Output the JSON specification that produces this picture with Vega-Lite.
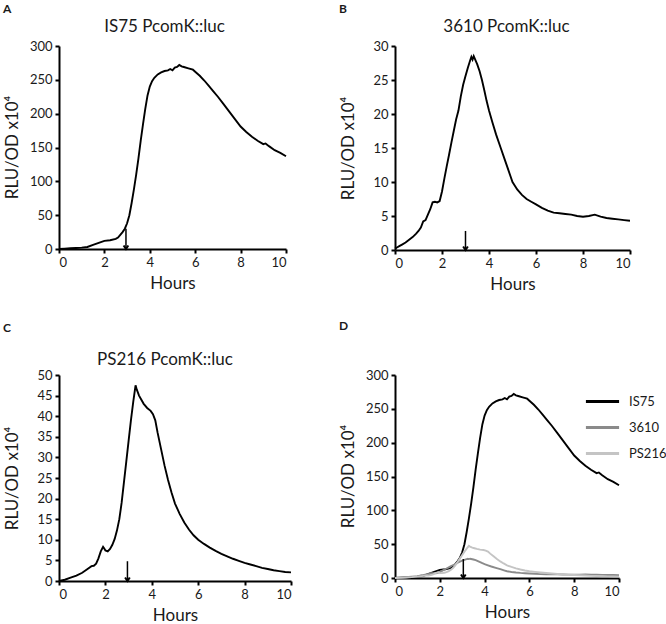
{
  "$schema": "https://vega.github.io/schema/vega-lite/v6.json",
  "background": "white",
  "padding": {"left": 3, "top": 3, "right": 0, "bottom": 0},
  "config": {
    "font": "Lato",
    "view": {"stroke": null},
    "axis": {"domainColor": "black", "domainWidth": 2, "tickColor": "black", "tickWidth": 2, "tickSize": 4, "labelFontSize": 13, "labelColor": "#1a1a1a", "titleFontSize": 17, "titleFontWeight": "normal", "titleColor": "#1a1a1a", "grid": false, "labelPadding": 3},
    "axisX": {"titlePadding": 6},
    "axisY": {"titleAngle": 270, "titleBaseline": "bottom", "titleAlign": "center", "titleX": -38},
    "title": {"fontSize": 17, "fontWeight": "normal", "color": "#1a1a1a"},
    "legend": {"labelFontSize": 13, "labelColor": "#1a1a1a"}
  },
  "datasets": {
    "curves": [
      {"strain": "IS75", "hours": 0, "value": 0}, {"strain": "IS75", "hours": 0.25, "value": 0.5}, {"strain": "IS75", "hours": 0.5, "value": 1}, {"strain": "IS75", "hours": 0.75, "value": 1.5}, {"strain": "IS75", "hours": 1.0, "value": 2}, {"strain": "IS75", "hours": 1.25, "value": 3}, {"strain": "IS75", "hours": 1.5, "value": 6}, {"strain": "IS75", "hours": 1.75, "value": 9}, {"strain": "IS75", "hours": 2.0, "value": 12}, {"strain": "IS75", "hours": 2.25, "value": 13}, {"strain": "IS75", "hours": 2.5, "value": 15}, {"strain": "IS75", "hours": 2.6, "value": 17}, {"strain": "IS75", "hours": 2.7, "value": 21}, {"strain": "IS75", "hours": 2.8, "value": 25}, {"strain": "IS75", "hours": 2.9, "value": 30}, {"strain": "IS75", "hours": 3.0, "value": 38}, {"strain": "IS75", "hours": 3.1, "value": 50}, {"strain": "IS75", "hours": 3.2, "value": 68}, {"strain": "IS75", "hours": 3.3, "value": 88}, {"strain": "IS75", "hours": 3.4, "value": 110}, {"strain": "IS75", "hours": 3.5, "value": 134}, {"strain": "IS75", "hours": 3.6, "value": 160}, {"strain": "IS75", "hours": 3.7, "value": 184}, {"strain": "IS75", "hours": 3.8, "value": 207}, {"strain": "IS75", "hours": 3.9, "value": 227}, {"strain": "IS75", "hours": 4.0, "value": 240}, {"strain": "IS75", "hours": 4.1, "value": 248}, {"strain": "IS75", "hours": 4.2, "value": 253}, {"strain": "IS75", "hours": 4.35, "value": 258}, {"strain": "IS75", "hours": 4.5, "value": 261}, {"strain": "IS75", "hours": 4.65, "value": 263}, {"strain": "IS75", "hours": 4.8, "value": 264}, {"strain": "IS75", "hours": 4.9, "value": 266}, {"strain": "IS75", "hours": 5.0, "value": 264}, {"strain": "IS75", "hours": 5.1, "value": 268}, {"strain": "IS75", "hours": 5.2, "value": 269}, {"strain": "IS75", "hours": 5.3, "value": 272}, {"strain": "IS75", "hours": 5.4, "value": 270}, {"strain": "IS75", "hours": 5.5, "value": 269}, {"strain": "IS75", "hours": 5.7, "value": 267}, {"strain": "IS75", "hours": 5.9, "value": 265}, {"strain": "IS75", "hours": 6.0, "value": 262}, {"strain": "IS75", "hours": 6.2, "value": 256}, {"strain": "IS75", "hours": 6.4, "value": 249}, {"strain": "IS75", "hours": 6.6, "value": 241}, {"strain": "IS75", "hours": 6.8, "value": 233}, {"strain": "IS75", "hours": 7.0, "value": 225}, {"strain": "IS75", "hours": 7.25, "value": 214}, {"strain": "IS75", "hours": 7.5, "value": 203}, {"strain": "IS75", "hours": 7.75, "value": 192}, {"strain": "IS75", "hours": 8.0, "value": 181}, {"strain": "IS75", "hours": 8.25, "value": 173}, {"strain": "IS75", "hours": 8.5, "value": 166}, {"strain": "IS75", "hours": 8.75, "value": 160}, {"strain": "IS75", "hours": 9.0, "value": 155}, {"strain": "IS75", "hours": 9.1, "value": 156}, {"strain": "IS75", "hours": 9.25, "value": 152}, {"strain": "IS75", "hours": 9.5, "value": 146}, {"strain": "IS75", "hours": 9.75, "value": 142}, {"strain": "IS75", "hours": 10, "value": 137},
      {"strain": "3610", "hours": 0, "value": 0.2}, {"strain": "3610", "hours": 0.1, "value": 0.4}, {"strain": "3610", "hours": 0.2, "value": 0.6}, {"strain": "3610", "hours": 0.3, "value": 0.8}, {"strain": "3610", "hours": 0.45, "value": 1.1}, {"strain": "3610", "hours": 0.6, "value": 1.5}, {"strain": "3610", "hours": 0.75, "value": 1.9}, {"strain": "3610", "hours": 0.9, "value": 2.4}, {"strain": "3610", "hours": 1.0, "value": 2.8}, {"strain": "3610", "hours": 1.1, "value": 3.3}, {"strain": "3610", "hours": 1.2, "value": 4.2}, {"strain": "3610", "hours": 1.3, "value": 4.4}, {"strain": "3610", "hours": 1.4, "value": 5.2}, {"strain": "3610", "hours": 1.5, "value": 6.0}, {"strain": "3610", "hours": 1.6, "value": 7.0}, {"strain": "3610", "hours": 1.7, "value": 7.1}, {"strain": "3610", "hours": 1.8, "value": 7.0}, {"strain": "3610", "hours": 1.9, "value": 7.2}, {"strain": "3610", "hours": 2.0, "value": 8.6}, {"strain": "3610", "hours": 2.1, "value": 10.5}, {"strain": "3610", "hours": 2.2, "value": 12.3}, {"strain": "3610", "hours": 2.3, "value": 14.0}, {"strain": "3610", "hours": 2.4, "value": 15.8}, {"strain": "3610", "hours": 2.5, "value": 17.5}, {"strain": "3610", "hours": 2.6, "value": 19.2}, {"strain": "3610", "hours": 2.7, "value": 20.5}, {"strain": "3610", "hours": 2.8, "value": 22.6}, {"strain": "3610", "hours": 2.9, "value": 24.3}, {"strain": "3610", "hours": 3.0, "value": 25.6}, {"strain": "3610", "hours": 3.1, "value": 26.8}, {"strain": "3610", "hours": 3.2, "value": 27.9}, {"strain": "3610", "hours": 3.25, "value": 28.4}, {"strain": "3610", "hours": 3.3, "value": 28.0}, {"strain": "3610", "hours": 3.35, "value": 28.5}, {"strain": "3610", "hours": 3.4, "value": 28.1}, {"strain": "3610", "hours": 3.5, "value": 27.3}, {"strain": "3610", "hours": 3.6, "value": 26.3}, {"strain": "3610", "hours": 3.7, "value": 25.0}, {"strain": "3610", "hours": 3.8, "value": 23.5}, {"strain": "3610", "hours": 3.9, "value": 21.9}, {"strain": "3610", "hours": 4.0, "value": 20.5}, {"strain": "3610", "hours": 4.15, "value": 18.7}, {"strain": "3610", "hours": 4.3, "value": 17.0}, {"strain": "3610", "hours": 4.5, "value": 15.0}, {"strain": "3610", "hours": 4.7, "value": 13.0}, {"strain": "3610", "hours": 4.9, "value": 11.0}, {"strain": "3610", "hours": 5.0, "value": 10.0}, {"strain": "3610", "hours": 5.2, "value": 8.9}, {"strain": "3610", "hours": 5.4, "value": 8.1}, {"strain": "3610", "hours": 5.6, "value": 7.5}, {"strain": "3610", "hours": 5.8, "value": 7.1}, {"strain": "3610", "hours": 6.0, "value": 6.7}, {"strain": "3610", "hours": 6.25, "value": 6.2}, {"strain": "3610", "hours": 6.5, "value": 5.8}, {"strain": "3610", "hours": 6.75, "value": 5.5}, {"strain": "3610", "hours": 7.0, "value": 5.4}, {"strain": "3610", "hours": 7.25, "value": 5.3}, {"strain": "3610", "hours": 7.5, "value": 5.2}, {"strain": "3610", "hours": 7.75, "value": 5.0}, {"strain": "3610", "hours": 8.0, "value": 4.9}, {"strain": "3610", "hours": 8.25, "value": 5.0}, {"strain": "3610", "hours": 8.5, "value": 5.2}, {"strain": "3610", "hours": 8.75, "value": 4.9}, {"strain": "3610", "hours": 9.0, "value": 4.7}, {"strain": "3610", "hours": 9.25, "value": 4.6}, {"strain": "3610", "hours": 9.5, "value": 4.5}, {"strain": "3610", "hours": 9.75, "value": 4.4}, {"strain": "3610", "hours": 10, "value": 4.3},
      {"strain": "PS216", "hours": 0, "value": 0}, {"strain": "PS216", "hours": 0.25, "value": 0.3}, {"strain": "PS216", "hours": 0.5, "value": 0.8}, {"strain": "PS216", "hours": 0.75, "value": 1.3}, {"strain": "PS216", "hours": 1.0, "value": 2.0}, {"strain": "PS216", "hours": 1.2, "value": 2.8}, {"strain": "PS216", "hours": 1.4, "value": 3.6}, {"strain": "PS216", "hours": 1.5, "value": 3.7}, {"strain": "PS216", "hours": 1.6, "value": 4.2}, {"strain": "PS216", "hours": 1.7, "value": 5.5}, {"strain": "PS216", "hours": 1.8, "value": 7.2}, {"strain": "PS216", "hours": 1.9, "value": 8.3}, {"strain": "PS216", "hours": 1.95, "value": 7.9}, {"strain": "PS216", "hours": 2.0, "value": 7.4}, {"strain": "PS216", "hours": 2.1, "value": 7.2}, {"strain": "PS216", "hours": 2.2, "value": 7.8}, {"strain": "PS216", "hours": 2.3, "value": 8.8}, {"strain": "PS216", "hours": 2.4, "value": 10.2}, {"strain": "PS216", "hours": 2.5, "value": 12.3}, {"strain": "PS216", "hours": 2.6, "value": 15.0}, {"strain": "PS216", "hours": 2.7, "value": 19.0}, {"strain": "PS216", "hours": 2.8, "value": 24.0}, {"strain": "PS216", "hours": 2.9, "value": 29.0}, {"strain": "PS216", "hours": 3.0, "value": 34.0}, {"strain": "PS216", "hours": 3.1, "value": 39.0}, {"strain": "PS216", "hours": 3.2, "value": 43.5}, {"strain": "PS216", "hours": 3.3, "value": 47.5}, {"strain": "PS216", "hours": 3.35, "value": 46.5}, {"strain": "PS216", "hours": 3.45, "value": 45.0}, {"strain": "PS216", "hours": 3.55, "value": 44.0}, {"strain": "PS216", "hours": 3.65, "value": 43.0}, {"strain": "PS216", "hours": 3.8, "value": 42.0}, {"strain": "PS216", "hours": 3.95, "value": 41.3}, {"strain": "PS216", "hours": 4.05, "value": 40.5}, {"strain": "PS216", "hours": 4.15, "value": 39.0}, {"strain": "PS216", "hours": 4.25, "value": 36.0}, {"strain": "PS216", "hours": 4.4, "value": 32.0}, {"strain": "PS216", "hours": 4.55, "value": 28.0}, {"strain": "PS216", "hours": 4.7, "value": 24.5}, {"strain": "PS216", "hours": 4.85, "value": 21.5}, {"strain": "PS216", "hours": 5.0, "value": 18.8}, {"strain": "PS216", "hours": 5.2, "value": 16.3}, {"strain": "PS216", "hours": 5.4, "value": 14.2}, {"strain": "PS216", "hours": 5.6, "value": 12.5}, {"strain": "PS216", "hours": 5.8, "value": 11.1}, {"strain": "PS216", "hours": 6.0, "value": 10.0}, {"strain": "PS216", "hours": 6.25, "value": 9.0}, {"strain": "PS216", "hours": 6.5, "value": 8.1}, {"strain": "PS216", "hours": 6.75, "value": 7.3}, {"strain": "PS216", "hours": 7.0, "value": 6.6}, {"strain": "PS216", "hours": 7.25, "value": 6.0}, {"strain": "PS216", "hours": 7.5, "value": 5.4}, {"strain": "PS216", "hours": 7.75, "value": 4.9}, {"strain": "PS216", "hours": 8.0, "value": 4.4}, {"strain": "PS216", "hours": 8.25, "value": 4.0}, {"strain": "PS216", "hours": 8.5, "value": 3.6}, {"strain": "PS216", "hours": 8.75, "value": 3.2}, {"strain": "PS216", "hours": 9.0, "value": 2.9}, {"strain": "PS216", "hours": 9.25, "value": 2.6}, {"strain": "PS216", "hours": 9.5, "value": 2.4}, {"strain": "PS216", "hours": 9.75, "value": 2.2}, {"strain": "PS216", "hours": 10, "value": 2.1}
    ],
    "arrows": [
      {"panel": "A", "hours": 2.95, "top": 30, "tip": 0},
      {"panel": "B", "hours": 3.0, "top": 2.8, "tip": 0},
      {"panel": "C", "hours": 2.95, "top": 4.8, "tip": 0},
      {"panel": "D", "hours": 3.05, "top": 28, "tip": 0}
    ]
  },
  "columns": 2,
  "spacing": {"row": 28, "column": 44},
  "resolve": {"scale": {"color": "independent"}, "legend": {"color": "independent"}},
  "concat": [
    {
      "title": {"text": "A", "anchor": "start", "fontSize": 12, "fontWeight": "bold", "offset": 2},
      "vconcat": [
        {
          "title": {"text": "IS75 PcomK::luc", "anchor": "middle", "frame": "group", "dx": -8, "offset": 4},
          "width": 227, "height": 203,
          "layer": [
            {
              "data": {"name": "curves"},
              "transform": [{"filter": "datum.strain === 'IS75'"}],
              "mark": {"type": "line", "color": "black", "strokeWidth": 1.9},
              "encoding": {
                "x": {"field": "hours", "type": "quantitative", "scale": {"domain": [0, 10]}, "axis": {"title": "Hours", "values": [0, 2, 4, 6, 8, 10]}},
                "y": {"field": "value", "type": "quantitative", "scale": {"domain": [0, 300]}, "axis": {"title": "RLU/OD x10⁴", "values": [0, 50, 100, 150, 200, 250, 300], "titleY": 101}}
              }
            },
            {
              "data": {"name": "arrows"},
              "transform": [{"filter": "datum.panel === 'A'"}],
              "mark": {"type": "rule", "color": "black", "strokeWidth": 1.5},
              "encoding": {
                "x": {"field": "hours", "type": "quantitative", "axis": {"title": "Hours", "values": [0, 2, 4, 6, 8, 10]}},
                "y": {"field": "top", "type": "quantitative", "axis": {"title": "RLU/OD x10⁴", "values": [0, 50, 100, 150, 200, 250, 300], "titleY": 101}},
                "y2": {"field": "tip"}
              }
            },
            {
              "data": {"name": "arrows"},
              "transform": [{"filter": "datum.panel === 'A'"}],
              "mark": {"type": "point", "shape": "M-0.5,-0.75L0,0L0.5,-0.75", "filled": false, "color": "black", "strokeWidth": 2, "size": 90, "opacity": 1},
              "encoding": {
                "x": {"field": "hours", "type": "quantitative", "axis": {"title": "Hours", "values": [0, 2, 4, 6, 8, 10]}},
                "y": {"field": "tip", "type": "quantitative", "axis": {"title": "RLU/OD x10⁴", "values": [0, 50, 100, 150, 200, 250, 300], "titleY": 101}}
              }
            }
          ]
        }
      ]
    },
    {
      "title": {"text": "B", "anchor": "start", "fontSize": 12, "fontWeight": "bold", "offset": 2},
      "vconcat": [
        {
          "title": {"text": "3610 PcomK::luc", "anchor": "middle", "frame": "group", "dx": -6, "offset": 4},
          "width": 235, "height": 204,
          "layer": [
            {
              "data": {"name": "curves"},
              "transform": [{"filter": "datum.strain === '3610'"}],
              "mark": {"type": "line", "color": "black", "strokeWidth": 1.9},
              "encoding": {
                "x": {"field": "hours", "type": "quantitative", "scale": {"domain": [0, 10]}, "axis": {"title": "Hours", "values": [0, 2, 4, 6, 8, 10]}},
                "y": {"field": "value", "type": "quantitative", "scale": {"domain": [0, 30]}, "axis": {"title": "RLU/OD x10⁴", "values": [0, 5, 10, 15, 20, 25, 30], "titleY": 102}}
              }
            },
            {
              "data": {"name": "arrows"},
              "transform": [{"filter": "datum.panel === 'B'"}],
              "mark": {"type": "rule", "color": "black", "strokeWidth": 1.5},
              "encoding": {
                "x": {"field": "hours", "type": "quantitative", "axis": {"title": "Hours", "values": [0, 2, 4, 6, 8, 10]}},
                "y": {"field": "top", "type": "quantitative", "axis": {"title": "RLU/OD x10⁴", "values": [0, 5, 10, 15, 20, 25, 30], "titleY": 102}},
                "y2": {"field": "tip"}
              }
            },
            {
              "data": {"name": "arrows"},
              "transform": [{"filter": "datum.panel === 'B'"}],
              "mark": {"type": "point", "shape": "M-0.5,-0.75L0,0L0.5,-0.75", "filled": false, "color": "black", "strokeWidth": 2, "size": 90, "opacity": 1},
              "encoding": {
                "x": {"field": "hours", "type": "quantitative", "axis": {"title": "Hours", "values": [0, 2, 4, 6, 8, 10]}},
                "y": {"field": "tip", "type": "quantitative", "axis": {"title": "RLU/OD x10⁴", "values": [0, 5, 10, 15, 20, 25, 30], "titleY": 102}}
              }
            }
          ]
        }
      ]
    },
    {
      "title": {"text": "C", "anchor": "start", "fontSize": 12, "fontWeight": "bold", "offset": 16},
      "vconcat": [
        {
          "title": {"text": "PS216 PcomK::luc", "anchor": "middle", "frame": "group", "dx": -10, "offset": 0},
          "width": 232, "height": 206,
          "layer": [
            {
              "data": {"name": "curves"},
              "transform": [{"filter": "datum.strain === 'PS216'"}],
              "mark": {"type": "line", "color": "black", "strokeWidth": 1.9},
              "encoding": {
                "x": {"field": "hours", "type": "quantitative", "scale": {"domain": [0, 10]}, "axis": {"title": "Hours", "values": [0, 2, 4, 6, 8, 10]}},
                "y": {"field": "value", "type": "quantitative", "scale": {"domain": [0, 50]}, "axis": {"title": "RLU/OD x10⁴", "values": [0, 5, 10, 15, 20, 25, 30, 35, 40, 45, 50], "titleY": 103}}
              }
            },
            {
              "data": {"name": "arrows"},
              "transform": [{"filter": "datum.panel === 'C'"}],
              "mark": {"type": "rule", "color": "black", "strokeWidth": 1.5},
              "encoding": {
                "x": {"field": "hours", "type": "quantitative", "axis": {"title": "Hours", "values": [0, 2, 4, 6, 8, 10]}},
                "y": {"field": "top", "type": "quantitative", "axis": {"title": "RLU/OD x10⁴", "values": [0, 5, 10, 15, 20, 25, 30, 35, 40, 45, 50], "titleY": 103}},
                "y2": {"field": "tip"}
              }
            },
            {
              "data": {"name": "arrows"},
              "transform": [{"filter": "datum.panel === 'C'"}],
              "mark": {"type": "point", "shape": "M-0.5,-0.75L0,0L0.5,-0.75", "filled": false, "color": "black", "strokeWidth": 2, "size": 90, "opacity": 1},
              "encoding": {
                "x": {"field": "hours", "type": "quantitative", "axis": {"title": "Hours", "values": [0, 2, 4, 6, 8, 10]}},
                "y": {"field": "tip", "type": "quantitative", "axis": {"title": "RLU/OD x10⁴", "values": [0, 5, 10, 15, 20, 25, 30, 35, 40, 45, 50], "titleY": 103}}
              }
            }
          ]
        }
      ]
    },
    {
      "title": {"text": "D", "anchor": "start", "fontSize": 12, "fontWeight": "bold", "offset": 16},
      "resolve": {"scale": {"color": "independent"}, "legend": {"color": "independent"}},
      "vconcat": [
        {
          "title": {"text": " ", "anchor": "middle", "frame": "group", "offset": 2},
          "width": 224, "height": 203,
          "layer": [
            {
              "data": {"name": "curves"},
              "mark": {"type": "line", "strokeWidth": 1.9},
              "encoding": {
                "x": {"field": "hours", "type": "quantitative", "scale": {"domain": [0, 10]}, "axis": {"title": "Hours", "values": [0, 2, 4, 6, 8, 10]}},
                "y": {"field": "value", "type": "quantitative", "scale": {"domain": [0, 300]}, "axis": {"title": "RLU/OD x10⁴", "values": [0, 50, 100, 150, 200, 250, 300], "titleY": 101}},
                "color": {"field": "strain", "type": "nominal", "sort": ["IS75", "3610", "PS216"], "scale": {"domain": ["IS75", "3610", "PS216"], "range": ["#000000", "#8a8a8a", "#c4c4c4"]},
                  "legend": {"title": null, "orient": "none", "legendX": 189, "legendY": 8, "symbolType": "stroke", "symbolSize": 1100, "symbolStrokeWidth": 3, "rowPadding": -11, "labelOffset": 8}},
                "order": {"field": "hours", "type": "quantitative"}
              }
            },
            {
              "data": {"name": "arrows"},
              "transform": [{"filter": "datum.panel === 'D'"}],
              "mark": {"type": "rule", "color": "black", "strokeWidth": 1.5},
              "encoding": {
                "x": {"field": "hours", "type": "quantitative", "axis": {"title": "Hours", "values": [0, 2, 4, 6, 8, 10]}},
                "y": {"field": "top", "type": "quantitative", "axis": {"title": "RLU/OD x10⁴", "values": [0, 50, 100, 150, 200, 250, 300], "titleY": 101}},
                "y2": {"field": "tip"}
              }
            },
            {
              "data": {"name": "arrows"},
              "transform": [{"filter": "datum.panel === 'D'"}],
              "mark": {"type": "point", "shape": "M-0.5,-0.75L0,0L0.5,-0.75", "filled": false, "color": "black", "strokeWidth": 2, "size": 90, "opacity": 1},
              "encoding": {
                "x": {"field": "hours", "type": "quantitative", "axis": {"title": "Hours", "values": [0, 2, 4, 6, 8, 10]}},
                "y": {"field": "tip", "type": "quantitative", "axis": {"title": "RLU/OD x10⁴", "values": [0, 50, 100, 150, 200, 250, 300], "titleY": 101}}
              }
            }
          ]
        }
      ]
    }
  ]
}
